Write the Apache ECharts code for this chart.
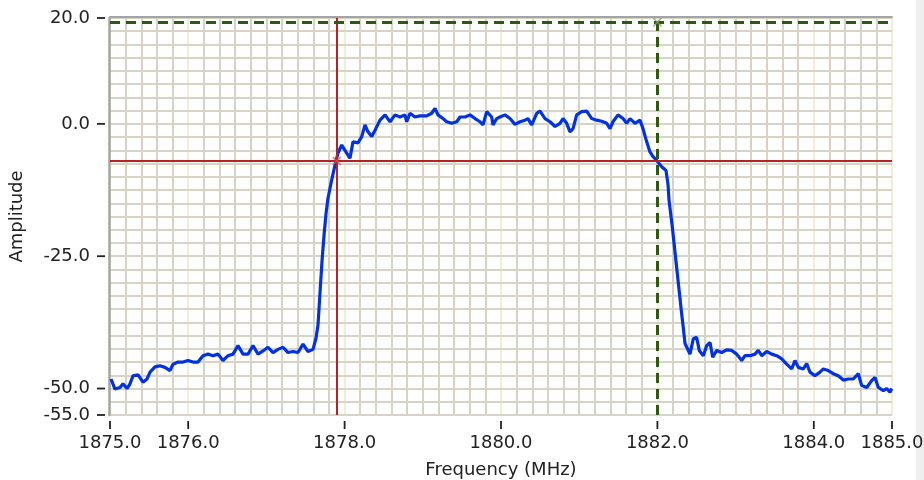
<!DOCTYPE html>
<html><head><meta charset="utf-8">
<script src="https://cdn.jsdelivr.net/npm/echarts@6/dist/echarts.min.js"></script>
<style>html,body{margin:0;padding:0;background:#fff}#c{width:924px;height:480px}</style>
</head><body><div id="c"></div>
<script>
// ---- data ----
const freq = [
1875.013,1875.064,1875.128,1875.166,1875.217,1875.256,1875.294,1875.358,1875.422,1875.473,
1875.512,1875.575,1875.639,1875.703,1875.767,1875.806,1875.870,1875.934,1875.997,1876.061,
1876.125,1876.189,1876.253,1876.317,1876.381,1876.445,1876.509,1876.573,1876.637,1876.701,
1876.765,1876.829,1876.893,1876.957,1877.020,1877.084,1877.148,1877.212,1877.276,1877.340,
1877.404,1877.468,1877.532,1877.596,1877.634,1877.660,1877.685,1877.711,1877.737,1877.762,
1877.788,1877.835,1877.877,1877.916,1877.963,1878.005,1878.069,1878.107,1878.171,1878.219,
1878.261,1878.299,1878.347,1878.389,1878.453,1878.517,1878.581,1878.645,1878.708,1878.772,
1878.794,1878.836,1878.900,1878.964,1879.050,1879.114,1879.156,1879.194,1879.258,1879.306,
1879.370,1879.434,1879.476,1879.540,1879.604,1879.668,1879.731,1879.770,1879.817,1879.881,
1879.898,1879.945,1879.987,1880.051,1880.115,1880.179,1880.243,1880.307,1880.345,1880.393,
1880.457,1880.499,1880.563,1880.627,1880.691,1880.754,1880.793,1880.840,1880.882,1880.921,
1880.968,1881.032,1881.096,1881.160,1881.224,1881.288,1881.352,1881.394,1881.432,1881.496,
1881.560,1881.607,1881.650,1881.714,1881.777,1881.816,1881.863,1881.905,1881.944,1881.991,
1882.055,1882.110,1882.136,1882.149,1882.187,1882.238,1882.289,1882.311,1882.331,1882.353,
1882.417,1882.459,1882.502,1882.535,1882.587,1882.630,1882.673,1882.707,1882.758,1882.822,
1882.886,1882.950,1883.014,1883.078,1883.120,1883.184,1883.248,1883.290,1883.334,1883.398,
1883.462,1883.526,1883.590,1883.653,1883.717,1883.760,1883.802,1883.866,1883.909,1883.951,
1884.015,1884.079,1884.122,1884.185,1884.249,1884.313,1884.377,1884.441,1884.505,1884.569,
1884.612,1884.677,1884.740,1884.783,1884.825,1884.889,1884.932,1884.974,1884.996
];
const amp = [
-48.2,-50.1,-49.8,-49.1,-50.0,-49.1,-47.6,-47.4,-48.8,-48.2,
-46.9,-45.9,-45.7,-46.0,-46.6,-45.4,-45.0,-45.0,-44.7,-45.0,
-45.0,-43.8,-43.5,-43.8,-43.5,-44.7,-43.8,-43.5,-41.9,-43.5,
-43.5,-41.9,-43.5,-42.9,-42.2,-43.2,-42.6,-42.2,-43.2,-43.0,
-43.2,-41.6,-43.0,-42.6,-40.5,-38.0,-32.0,-26.0,-21.0,-17.0,
-14.0,-10.6,-7.8,-5.5,-4.0,-5.0,-6.5,-3.4,-3.6,-2.4,
-0.2,-1.5,-2.4,-1.2,0.7,1.7,0.4,1.7,1.3,1.7,
0.4,2.0,1.3,1.5,1.5,2.0,2.9,1.7,1.0,0.4,
0.1,0.4,1.3,1.3,1.7,1.0,0.4,-0.2,2.3,1.3,
-0.2,1.0,1.3,1.7,1.0,-0.1,0.4,0.7,1.0,-0.2,
2.0,2.4,1.0,0.4,-0.5,0.1,1.0,0.1,-1.5,-0.9,
1.7,2.3,2.4,1.0,0.7,0.5,0.1,-0.9,0.4,1.7,
1.0,0.1,1.0,0.1,0.7,-0.9,-3.4,-5.3,-6.2,-6.9,
-8.1,-8.8,-11.5,-14.5,-19.0,-26.0,-33.0,-36.0,-38.5,-41.5,
-43.5,-40.6,-40.3,-42.8,-43.8,-41.9,-41.3,-44.1,-42.8,-43.2,
-42.7,-42.8,-43.5,-44.7,-43.8,-43.8,-43.5,-42.8,-43.8,-43.0,
-43.5,-43.8,-44.4,-45.4,-46.3,-44.7,-46.0,-46.3,-45.3,-46.9,
-47.6,-46.9,-46.3,-46.6,-47.2,-47.6,-48.4,-48.2,-48.2,-47.2,
-49.4,-49.8,-48.5,-47.9,-49.8,-50.4,-50.0,-50.7,-50.0
];
const xTickLabels = [1875, 1876, 1878, 1880, 1882, 1884, 1885];
const yTickLabels = [20, 0, -25, -50, -55];
const xRange = [1875, 1885];
const yRange = [-55, 20];
const xMinorStep = 0.2;
const yMinorStep = 2.5;
const redCursor = [1877.9, -7.0];
const greenCursor = [1882.0, 19.2];

// ---- chart ----
const FONT = 'DejaVu Sans';
const minorColor = '#d7d3c7';
const majorColor = '#f1edd6';
const borderColor = '#a4a4a4';
const textColor = '#222';
const fmt = v => Number(v).toFixed(1);
const xMark = 'path://M0,0L10,10M10,0L0,10';

const chart = echarts.init(document.getElementById('c'), null, {renderer: 'canvas'});
chart.setOption({
  animation: false,
  backgroundColor: '#ffffff',
  grid: {left: 110, top: 18, width: 782, height: 397, containLabel: false, outerBoundsMode: 'none'},
  graphic: [{id: 'edge', type: 'rect', right: 0, top: 0, shape: {width: 8, height: 480}, style: {fill: '#eeeeee'}, silent: true}],
  xAxis: [
    {type: 'value', min: xRange[0], max: xRange[1], interval: xMinorStep, position: 'bottom', z: 0,
     axisLine: {show: false, onZero: false}, axisTick: {show: false}, axisLabel: {show: false},
     splitLine: {show: true, lineStyle: {color: minorColor, width: 2}}},
    {type: 'value', min: xRange[0], max: xRange[1], position: 'bottom', offset: 6, z: 1,
     axisLine: {show: false, onZero: false},
     axisTick: {show: false, customValues: xTickLabels},
     axisLabel: {customValues: xTickLabels, formatter: fmt, margin: 13, fontFamily: FONT, fontSize: 18, color: textColor},
     splitLine: {show: true, lineStyle: {color: majorColor, width: 2}},
     name: 'Frequency (MHz)', nameLocation: 'middle', nameGap: 40,
     nameTextStyle: {fontFamily: FONT, fontSize: 18, color: textColor}},
    {type: 'value', min: xRange[0], max: xRange[1], position: 'top', offset: 1, z: 2,
     axisLine: {show: true, onZero: false, lineStyle: {color: borderColor, width: 2}},
     axisTick: {show: false}, axisLabel: {show: false}, splitLine: {show: false}}
  ],
  yAxis: [
    {type: 'value', min: yRange[0], max: yRange[1], interval: yMinorStep, position: 'left', offset: 1, z: 2,
     axisLine: {show: true, onZero: false, lineStyle: {color: borderColor, width: 2.5}},
     axisTick: {show: false}, axisLabel: {show: false},
     splitLine: {show: true, lineStyle: {color: minorColor, width: 2}}},
    {type: 'value', min: yRange[0], max: yRange[1], position: 'left', offset: 4, z: 1,
     axisLine: {show: false, onZero: false},
     axisTick: {show: false, customValues: yTickLabels},
     axisLabel: {customValues: yTickLabels, formatter: fmt, margin: 16, fontFamily: FONT, fontSize: 18, color: textColor},
     splitLine: {show: true, lineStyle: {color: majorColor, width: 2}},
     name: 'Amplitude', nameLocation: 'middle', nameGap: 80,
     nameTextStyle: {fontFamily: FONT, fontSize: 18, color: textColor}}
  ],
  series: [
    {type: 'line', name: 'trace', xAxisIndex: 0, yAxisIndex: 0, z: 3, silent: true,
     data: freq.map((f, i) => [f, amp[i]]),
     showSymbol: false, symbol: 'none',
     lineStyle: {color: '#0032e0', width: 3.2}},
    {type: 'line', name: 'redCursor', xAxisIndex: 0, yAxisIndex: 0, z: 4, data: [], silent: true,
     markLine: {silent: true, symbol: ['none', 'none'], label: {show: false}, animation: false,
       lineStyle: {color: '#b42222', width: 2, type: 'solid'},
       data: [{xAxis: redCursor[0]}, {yAxis: redCursor[1]}]}},
    {type: 'line', name: 'greenCursor', xAxisIndex: 0, yAxisIndex: 0, z: 4, data: [], silent: true,
     markLine: {silent: true, symbol: ['none', 'none'], label: {show: false}, animation: false,
       lineStyle: {color: '#2c5a0e', width: 3, type: [10, 6]},
       data: [{xAxis: greenCursor[0]}, {yAxis: greenCursor[1]}]}},
    {type: 'scatter', name: 'redMark', xAxisIndex: 0, yAxisIndex: 0, z: 5, silent: true,
     data: [redCursor], symbol: xMark, symbolSize: 8,
     itemStyle: {color: 'rgba(0,0,0,0)', borderColor: '#e05050', borderWidth: 1.5}},
    {type: 'scatter', name: 'greenMark', xAxisIndex: 0, yAxisIndex: 0, z: 5, silent: true,
     data: [greenCursor], symbol: xMark, symbolSize: 8,
     itemStyle: {color: 'rgba(0,0,0,0)', borderColor: '#7a9a6a', borderWidth: 1.5}}
  ]
});

// tick marks placed through the chart's own scales
const yBottom = chart.convertToPixel({yAxisIndex: 0}, yRange[0]);
const xLeft = chart.convertToPixel({xAxisIndex: 0}, xRange[0]);
const tickEls = [];
xTickLabels.forEach((v, i) => {
  const px = chart.convertToPixel({xAxisIndex: 0}, v);
  tickEls.push({id: 'xt' + i, type: 'line', z: 100, silent: true,
    shape: {x1: px, y1: yBottom + 6, x2: px, y2: yBottom + 14},
    style: {stroke: textColor, lineWidth: 1.8}});
});
yTickLabels.forEach((v, i) => {
  const py = chart.convertToPixel({yAxisIndex: 0}, v);
  tickEls.push({id: 'yt' + i, type: 'line', z: 100, silent: true,
    shape: {x1: xLeft - 13, y1: py, x2: xLeft - 5, y2: py},
    style: {stroke: textColor, lineWidth: 1.8}});
});
chart.setOption({graphic: tickEls});
</script>
</body></html>
